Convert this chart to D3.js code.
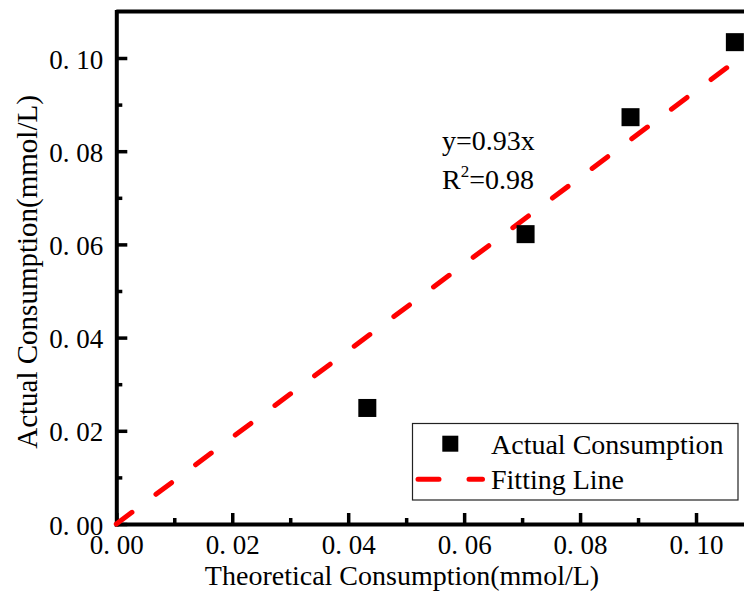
<!DOCTYPE html>
<html>
<head>
<meta charset="utf-8">
<script src="https://cdn.jsdelivr.net/npm/d3@7"></script>
<style>
  body { margin: 0; background: #fff; }
  svg { display: block; }
  text { font-family: "Liberation Serif", "Times New Roman", serif; fill: #000; }
</style>
</head>
<body>
<div id="chart"></div>
<script>
// Data
const theoretical = [0.0433, 0.0706, 0.0887, 0.1067];
const actual = [0.0249, 0.0622, 0.0873, 0.1034];
const fitX = [0, 0.1067];
const fitY = [0, 0.0992]; // y = 0.93x
const majorTicks = [0, 0.02, 0.04, 0.06, 0.08, 0.10];
const minorTicks = [0.01, 0.03, 0.05, 0.07, 0.09];
const legendLabels = ["Actual Consumption", "Fitting Line"];

// Layout
const WIDTH = 744, HEIGHT = 597;
const X0 = 116.3, X1 = 754;
const Y0 = 524, Y1 = 11.4;

const svg = d3.select("#chart").append("svg")
    .attr("width", WIDTH)
    .attr("height", HEIGHT);

const x = d3.scaleLinear().domain([0, 0.11]).range([X0, X1]);
const y = d3.scaleLinear().domain([0, 0.11]).range([Y0, Y1]);

// tick labels look like "0. 10" in the original
const tickFmt = d => d3.format(".2f")(d).replace(".", ". ");

// frame top / right line
svg.append("line")
    .attr("x1", X0).attr("x2", X1)
    .attr("y1", Y1).attr("y2", Y1)
    .attr("stroke", "#000").attr("stroke-width", 4);
svg.append("line")
    .attr("x1", X1).attr("x2", X1)
    .attr("y1", Y0).attr("y2", Y1)
    .attr("stroke", "#000").attr("stroke-width", 4);

// minor ticks
svg.append("g")
    .attr("transform", `translate(${X0},0)`)
    .call(d3.axisLeft(y).tickValues(minorTicks).tickSize(-6).tickFormat(""))
    .call(g => g.select(".domain").remove())
    .call(g => g.selectAll("line").attr("stroke-width", 3.5));
svg.append("g")
    .attr("transform", `translate(0,${Y0})`)
    .call(d3.axisBottom(x).tickValues(minorTicks).tickSize(-6).tickFormat(""))
    .call(g => g.select(".domain").remove())
    .call(g => g.selectAll("line").attr("stroke-width", 3.5));

// major axes
const yAxis = svg.append("g")
    .attr("transform", `translate(${X0},0)`)
    .call(d3.axisLeft(y).tickValues(majorTicks).tickFormat(tickFmt)
        .tickSize(-11).tickSizeOuter(0).tickPadding(13));
yAxis.selectAll("text")
    .attr("dy", "0.37em")
    .style("font-size", "27px")
    .style("white-space", "pre");

const xAxis = svg.append("g")
    .attr("transform", `translate(0,${Y0})`)
    .call(d3.axisBottom(x).tickValues(majorTicks).tickFormat(tickFmt)
        .tickSize(-11).tickSizeOuter(0).tickPadding(11));
xAxis.selectAll("text")
    .style("font-size", "27px")
    .style("white-space", "pre");

[yAxis, xAxis].forEach(ax => {
    ax.attr("font-family", null).attr("font-size", null);
    ax.select(".domain").attr("stroke-width", 4).attr("stroke-linecap", "square");
    ax.selectAll(".tick line").attr("stroke-width", 3.5);
});

// axis titles
svg.append("text")
    .attr("x", 402).attr("y", 585)
    .attr("text-anchor", "middle")
    .style("font-size", "28px")
    .text("Theoretical Consumption(mmol/L)");

svg.append("text")
    .attr("transform", "translate(37,272) rotate(-90)")
    .attr("text-anchor", "middle")
    .style("font-size", "29px")
    .text("Actual Consumption(mmol/L)");

// fitting line
const fitData = fitX.map((v, i) => ({ x: v, y: fitY[i] }));
const line = d3.line().x(d => x(d.x)).y(d => y(d.y));
svg.append("path")
    .datum(fitData)
    .attr("d", line)
    .attr("fill", "none")
    .attr("stroke", "#ff0000")
    .attr("stroke-width", 5)
    .attr("stroke-linecap", "round")
    .attr("stroke-dasharray", "19.5 30");

// points
const S = 18;
svg.append("g").selectAll("rect")
    .data(theoretical.map((v, i) => ({ x: v, y: actual[i] })))
    .join("rect")
    .attr("x", d => x(d.x) - S / 2)
    .attr("y", d => y(d.y) - S / 2)
    .attr("width", S)
    .attr("height", S)
    .attr("fill", "#000");

// equation annotation
svg.append("text")
    .attr("x", 442).attr("y", 150)
    .style("font-size", "28px")
    .text("y=0.93x");
const r2 = svg.append("text")
    .attr("x", 442).attr("y", 189)
    .style("font-size", "28px");
r2.append("tspan").text("R");
r2.append("tspan").attr("dy", -12).style("font-size", "17px").text("2");
r2.append("tspan").attr("dy", 12).text("=0.98");

// legend
const legend = svg.append("g");
legend.append("rect")
    .attr("x", 412.5).attr("y", 423.5)
    .attr("width", 325.5).attr("height", 76.5)
    .attr("fill", "#fff")
    .attr("stroke", "#222")
    .attr("stroke-width", 1.2);
legend.append("rect")
    .attr("x", 442.3).attr("y", 435.7)
    .attr("width", 16).attr("height", 16)
    .attr("fill", "#000");
legend.append("line")
    .attr("x1", 418).attr("x2", 482.5)
    .attr("y1", 479.3).attr("y2", 479.3)
    .attr("stroke", "#ff0000")
    .attr("stroke-width", 5)
    .attr("stroke-linecap", "round")
    .attr("stroke-dasharray", "21 30");
legend.selectAll("text.lbl")
    .data(legendLabels)
    .join("text")
    .attr("class", "lbl")
    .attr("x", 491)
    .attr("y", (d, i) => i === 0 ? 454.3 : 489)
    .style("font-size", "28px")
    .text(d => d);
</script>
</body>
</html>
